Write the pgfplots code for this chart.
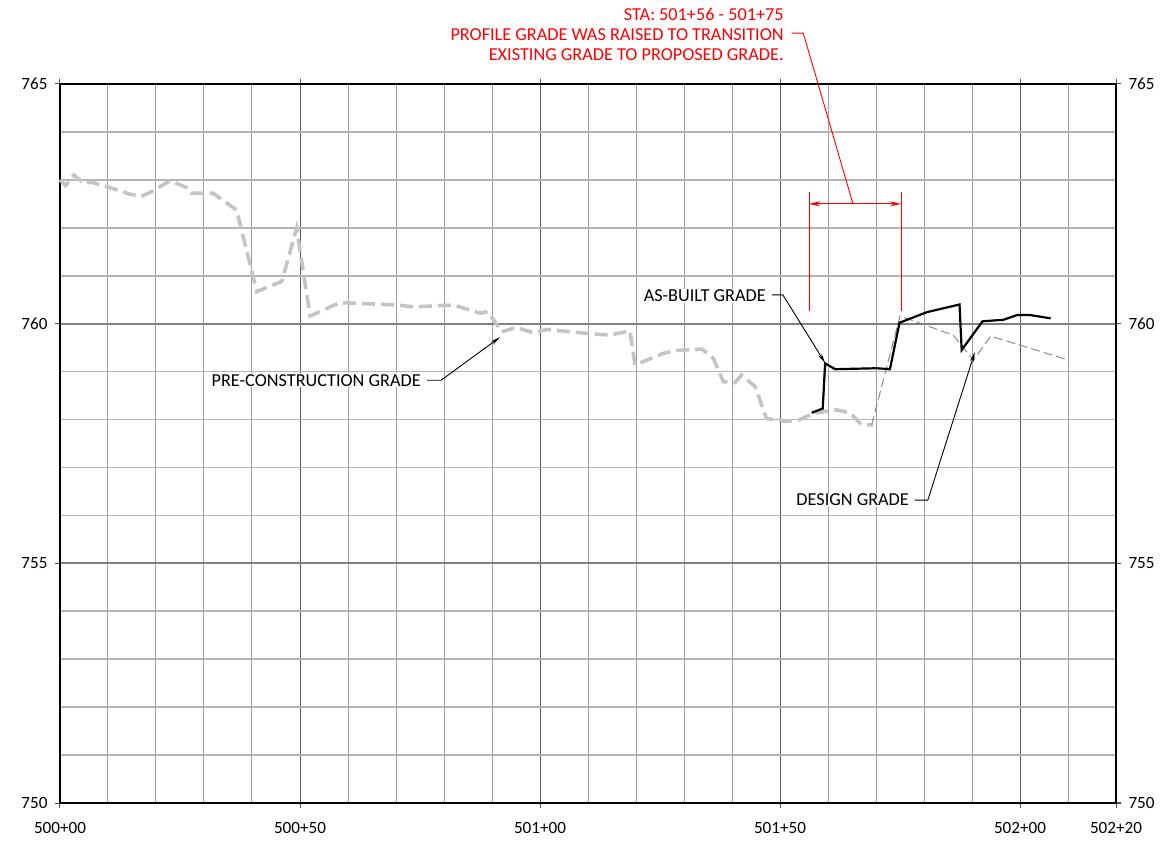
\documentclass[border=0pt]{standalone}
\usepackage{pgfplots}
\pgfplotsset{compat=1.18}
\usepackage{fontspec}
\setmainfont{Carlito}
\usetikzlibrary{arrows.meta}
\definecolor{pregray}{HTML}{C4C4C4}
\definecolor{desgray}{HTML}{8C8C8C}
\definecolor{majgrid}{HTML}{808080}
\definecolor{mingrid}{HTML}{B4B4B4}
\definecolor{vgrid}{HTML}{A0A0A0}
\begin{document}
\begin{tikzpicture}[font=\fontsize{18.3}{20}\selectfont]
\begin{axis}[
  scale only axis, width=1056bp, height=719bp,
  xmin=0, xmax=220, ymin=750, ymax=765,
  clip=false,
  /pgf/number format/assume math mode=true,
  ticklabel style={font=\fontsize{17.2}{20}\selectfont},
  xtick={0,50,100,150,200,220},
  xticklabels={500+00,500+50,501+00,501+50,502+00,502+20},
  minor xtick={10,20,30,40,60,70,80,90,110,120,130,140,160,170,180,190,210},
  ytick={750,755,760,765},
  minor ytick={751,752,753,754,756,757,758,759,761,762,763,764},
  yticklabel style={/pgf/number format/1000 sep={}},
  tick align=outside, major tick length=5bp, minor tick length=0bp,
  tick style={draw=black!70, line width=1bp},
  grid=both,
  major x grid style={draw=black!65, line width=1bp},
  minor x grid style={draw=vgrid, line width=1bp},
  major y grid style={draw=majgrid, line width=2bp},
  minor y grid style={draw=mingrid, line width=1.6bp},
  x axis line style={draw=black!65, line width=2bp},
  y axis line style={draw=black, line width=1.3bp},
  xticklabel style={yshift=-11bp},
  yticklabel style={xshift=-4bp},
]
% pre-construction grade
\addplot[pregray, line width=3.6bp, dash pattern=on 13bp off 6bp] coordinates {
(0,763.00)(1.2,762.88)(2.9,763.10)(5.2,762.91)(6.25,762.96)(10,762.85)(14.6,762.70)(17,762.66)(19,762.75)(22.9,762.98)(26.4,762.84)(27.4,762.72)(31.9,762.72)(36.8,762.37)(41,760.67)(46.2,760.88)(49.3,761.99)(52.1,760.16)(58.3,760.44)(70.1,760.39)(73.6,760.35)(81.9,760.39)(87.5,760.22)(89.2,760.25)(92.0,759.83)(95.1,759.92)(98.6,759.81)(101.4,759.88)(108.3,759.81)(114.6,759.76)(118.75,759.85)(119.8,759.14)(125.7,759.38)(128.5,759.44)(133.7,759.47)(136.1,759.28)(138.2,758.79)(140.6,758.77)(142.0,758.93)(144.8,758.69)(147.2,758.02)(151.4,757.96)(154.2,758.00)(156.9,758.13)(161.8,758.20)(164.6,758.14)(167.0,757.89)(169.4,757.89)
};
% design grade
\addplot[desgray, line width=1bp, dash pattern=on 9bp off 4bp] coordinates {
(169.1,757.89)(175.0,760.16)(186.1,759.76)(190.3,759.24)(193.9,759.74)(210.1,759.24)
};
% as-built grade
\addplot[black, line width=2.2bp] coordinates {
(156.6,758.14)(158.9,758.23)(159.4,759.17)(161.5,759.05)(170.1,759.07)(172.9,759.05)(174.9,760.02)(180.6,760.24)(187.4,760.40)(187.85,759.45)(192.2,760.05)(196.5,760.08)(199.4,760.18)(202.1,760.18)(206.4,760.11)
};
% annotations
\node[anchor=east, align=right, text=red, inner sep=0pt] at (axis cs:150.8,766.04)
  {STA: 501+56 - 501+75\\PROFILE GRADE WAS RAISED TO TRANSITION\\EXISTING GRADE TO PROPOSED GRADE.};
\draw[red, line width=0.9bp] (axis cs:152.4,766.06) -- (axis cs:154.85,766.06) -- (axis cs:165.2,762.50);
\draw[red, line width=0.9bp] (axis cs:156.04,762.75) -- (axis cs:156.04,760.27);
\draw[red, line width=0.9bp] (axis cs:175.2,762.75) -- (axis cs:175.2,760.27);
\draw[red, line width=0.9bp, {Stealth[length=11bp,width=5bp]}-{Stealth[length=11bp,width=5bp]}] (axis cs:156.04,762.50) -- (axis cs:175.2,762.50);
\node[anchor=east, fill=white, inner xsep=2bp, inner ysep=1bp] at (axis cs:147.5,760.58) {AS-BUILT GRADE};
\draw[black, line width=0.9bp, -{Stealth[length=10bp,width=4bp]}] (axis cs:148.3,760.60) -- (axis cs:150.6,760.60) -- (axis cs:159.4,759.18);
\node[anchor=east, fill=white, inner xsep=2bp, inner ysep=1bp] at (axis cs:75.6,758.82) {PRE-CONSTRUCTION GRADE};
\draw[black, line width=0.9bp, -{Stealth[length=10bp,width=4bp]}] (axis cs:76.5,758.82) -- (axis cs:79.4,758.82) -- (axis cs:91.7,759.72);
\node[anchor=east, fill=white, inner xsep=2bp, inner ysep=1bp] at (axis cs:177.3,756.32) {DESIGN GRADE};
\draw[black, line width=0.9bp, -{Stealth[length=10bp,width=4bp]}] (axis cs:178.1,756.32) -- (axis cs:180.8,756.32) -- (axis cs:190.6,759.41);
\end{axis}
\begin{axis}[
  scale only axis, width=1056bp, height=719bp,
  xmin=0, xmax=220, ymin=750, ymax=765,
  axis y line*=right, axis x line=none,
  /pgf/number format/assume math mode=true,
  ticklabel style={font=\fontsize{17.2}{20}\selectfont},
  ytick={750,755,760,765},
  tick align=outside, major tick length=5bp,
  tick style={draw=black!70, line width=1bp},
  y axis line style={draw=black, line width=1.3bp},
  yticklabel style={xshift=4bp},
]
\addplot[draw=none] coordinates {(0,750)};
\end{axis}
\pgfresetboundingbox
\useasboundingbox (-60bp,-42bp) rectangle (1100bp,803bp);
\end{tikzpicture}
\end{document}
